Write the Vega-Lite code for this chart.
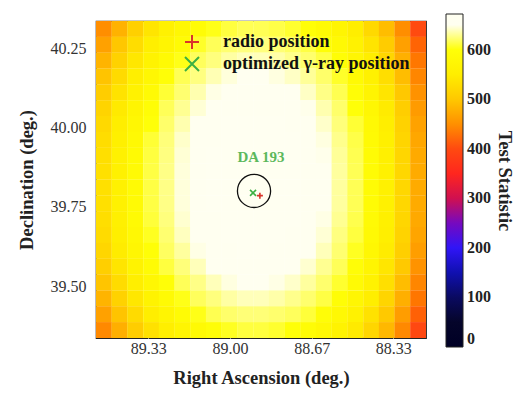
{
"$schema":"https://vega.github.io/schema/vega-lite/v6.json",
"width":330,"height":317,
"autosize":{"type":"none"},
"padding":{"left":96,"top":21,"right":94,"bottom":61},
"background":"white",
"config":{"view":{"stroke":"#222","strokeWidth":1.2},"font":"Liberation Serif"},
"datasets":{"tsmap":[
{"ra":89.515,"dec":40.311,"ts":448},{"ra":89.515,"dec":40.261,"ts":465},{"ra":89.515,"dec":40.211,"ts":482},{"ra":89.515,"dec":40.161,"ts":496},{"ra":89.515,"dec":40.111,"ts":506},{"ra":89.515,"dec":40.061,"ts":516},{"ra":89.515,"dec":40.011,"ts":523},{"ra":89.515,"dec":39.961,"ts":528},{"ra":89.515,"dec":39.911,"ts":531},{"ra":89.515,"dec":39.861,"ts":532},{"ra":89.515,"dec":39.811,"ts":532},{"ra":89.515,"dec":39.761,"ts":532},{"ra":89.515,"dec":39.711,"ts":529},{"ra":89.515,"dec":39.661,"ts":525},{"ra":89.515,"dec":39.611,"ts":519},{"ra":89.515,"dec":39.561,"ts":509},{"ra":89.515,"dec":39.511,"ts":497},{"ra":89.515,"dec":39.461,"ts":482},{"ra":89.515,"dec":39.411,"ts":465},{"ra":89.515,"dec":39.361,"ts":444},
{"ra":89.451,"dec":40.311,"ts":480},{"ra":89.451,"dec":40.261,"ts":499},{"ra":89.451,"dec":40.211,"ts":513},{"ra":89.451,"dec":40.161,"ts":525},{"ra":89.451,"dec":40.111,"ts":536},{"ra":89.451,"dec":40.061,"ts":545},{"ra":89.451,"dec":40.011,"ts":551},{"ra":89.451,"dec":39.961,"ts":556},{"ra":89.451,"dec":39.911,"ts":559},{"ra":89.451,"dec":39.861,"ts":560},{"ra":89.451,"dec":39.811,"ts":560},{"ra":89.451,"dec":39.761,"ts":560},{"ra":89.451,"dec":39.711,"ts":557},{"ra":89.451,"dec":39.661,"ts":554},{"ra":89.451,"dec":39.611,"ts":547},{"ra":89.451,"dec":39.561,"ts":538},{"ra":89.451,"dec":39.511,"ts":527},{"ra":89.451,"dec":39.461,"ts":513},{"ra":89.451,"dec":39.411,"ts":496},{"ra":89.451,"dec":39.361,"ts":477},
{"ra":89.387,"dec":40.311,"ts":511},{"ra":89.387,"dec":40.261,"ts":528},{"ra":89.387,"dec":40.211,"ts":541},{"ra":89.387,"dec":40.161,"ts":553},{"ra":89.387,"dec":40.111,"ts":563},{"ra":89.387,"dec":40.061,"ts":571},{"ra":89.387,"dec":40.011,"ts":578},{"ra":89.387,"dec":39.961,"ts":582},{"ra":89.387,"dec":39.911,"ts":585},{"ra":89.387,"dec":39.861,"ts":586},{"ra":89.387,"dec":39.811,"ts":586},{"ra":89.387,"dec":39.761,"ts":586},{"ra":89.387,"dec":39.711,"ts":584},{"ra":89.387,"dec":39.661,"ts":580},{"ra":89.387,"dec":39.611,"ts":574},{"ra":89.387,"dec":39.561,"ts":565},{"ra":89.387,"dec":39.511,"ts":554},{"ra":89.387,"dec":39.461,"ts":541},{"ra":89.387,"dec":39.411,"ts":525},{"ra":89.387,"dec":39.361,"ts":507},
{"ra":89.322,"dec":40.311,"ts":538},{"ra":89.322,"dec":40.261,"ts":552},{"ra":89.322,"dec":40.211,"ts":565},{"ra":89.322,"dec":40.161,"ts":577},{"ra":89.322,"dec":40.111,"ts":586},{"ra":89.322,"dec":40.061,"ts":594},{"ra":89.322,"dec":40.011,"ts":600},{"ra":89.322,"dec":39.961,"ts":605},{"ra":89.322,"dec":39.911,"ts":607},{"ra":89.322,"dec":39.861,"ts":608},{"ra":89.322,"dec":39.811,"ts":608},{"ra":89.322,"dec":39.761,"ts":608},{"ra":89.322,"dec":39.711,"ts":606},{"ra":89.322,"dec":39.661,"ts":602},{"ra":89.322,"dec":39.611,"ts":596},{"ra":89.322,"dec":39.561,"ts":588},{"ra":89.322,"dec":39.511,"ts":578},{"ra":89.322,"dec":39.461,"ts":565},{"ra":89.322,"dec":39.411,"ts":550},{"ra":89.322,"dec":39.361,"ts":533},
{"ra":89.258,"dec":40.311,"ts":559},{"ra":89.258,"dec":40.261,"ts":572},{"ra":89.258,"dec":40.211,"ts":585},{"ra":89.258,"dec":40.161,"ts":596},{"ra":89.258,"dec":40.111,"ts":605},{"ra":89.258,"dec":40.061,"ts":613},{"ra":89.258,"dec":40.011,"ts":618},{"ra":89.258,"dec":39.961,"ts":623},{"ra":89.258,"dec":39.911,"ts":625},{"ra":89.258,"dec":39.861,"ts":626},{"ra":89.258,"dec":39.811,"ts":626},{"ra":89.258,"dec":39.761,"ts":626},{"ra":89.258,"dec":39.711,"ts":624},{"ra":89.258,"dec":39.661,"ts":620},{"ra":89.258,"dec":39.611,"ts":615},{"ra":89.258,"dec":39.561,"ts":607},{"ra":89.258,"dec":39.511,"ts":597},{"ra":89.258,"dec":39.461,"ts":585},{"ra":89.258,"dec":39.411,"ts":570},{"ra":89.258,"dec":39.361,"ts":553},
{"ra":89.194,"dec":40.311,"ts":576},{"ra":89.194,"dec":40.261,"ts":589},{"ra":89.194,"dec":40.211,"ts":601},{"ra":89.194,"dec":40.161,"ts":612},{"ra":89.194,"dec":40.111,"ts":620},{"ra":89.194,"dec":40.061,"ts":628},{"ra":89.194,"dec":40.011,"ts":633},{"ra":89.194,"dec":39.961,"ts":638},{"ra":89.194,"dec":39.911,"ts":640},{"ra":89.194,"dec":39.861,"ts":641},{"ra":89.194,"dec":39.811,"ts":641},{"ra":89.194,"dec":39.761,"ts":641},{"ra":89.194,"dec":39.711,"ts":639},{"ra":89.194,"dec":39.661,"ts":636},{"ra":89.194,"dec":39.611,"ts":630},{"ra":89.194,"dec":39.561,"ts":623},{"ra":89.194,"dec":39.511,"ts":613},{"ra":89.194,"dec":39.461,"ts":601},{"ra":89.194,"dec":39.411,"ts":587},{"ra":89.194,"dec":39.361,"ts":571},
{"ra":89.130,"dec":40.311,"ts":590},{"ra":89.130,"dec":40.261,"ts":603},{"ra":89.130,"dec":40.211,"ts":614},{"ra":89.130,"dec":40.161,"ts":625},{"ra":89.130,"dec":40.111,"ts":633},{"ra":89.130,"dec":40.061,"ts":640},{"ra":89.130,"dec":40.011,"ts":646},{"ra":89.130,"dec":39.961,"ts":650},{"ra":89.130,"dec":39.911,"ts":652},{"ra":89.130,"dec":39.861,"ts":653},{"ra":89.130,"dec":39.811,"ts":653},{"ra":89.130,"dec":39.761,"ts":653},{"ra":89.130,"dec":39.711,"ts":651},{"ra":89.130,"dec":39.661,"ts":648},{"ra":89.130,"dec":39.611,"ts":643},{"ra":89.130,"dec":39.561,"ts":635},{"ra":89.130,"dec":39.511,"ts":626},{"ra":89.130,"dec":39.461,"ts":614},{"ra":89.130,"dec":39.411,"ts":601},{"ra":89.130,"dec":39.361,"ts":585},
{"ra":89.066,"dec":40.311,"ts":601},{"ra":89.066,"dec":40.261,"ts":613},{"ra":89.066,"dec":40.211,"ts":624},{"ra":89.066,"dec":40.161,"ts":634},{"ra":89.066,"dec":40.111,"ts":643},{"ra":89.066,"dec":40.061,"ts":650},{"ra":89.066,"dec":40.011,"ts":655},{"ra":89.066,"dec":39.961,"ts":659},{"ra":89.066,"dec":39.911,"ts":661},{"ra":89.066,"dec":39.861,"ts":662},{"ra":89.066,"dec":39.811,"ts":662},{"ra":89.066,"dec":39.761,"ts":662},{"ra":89.066,"dec":39.711,"ts":660},{"ra":89.066,"dec":39.661,"ts":657},{"ra":89.066,"dec":39.611,"ts":652},{"ra":89.066,"dec":39.561,"ts":645},{"ra":89.066,"dec":39.511,"ts":635},{"ra":89.066,"dec":39.461,"ts":624},{"ra":89.066,"dec":39.411,"ts":611},{"ra":89.066,"dec":39.361,"ts":595},
{"ra":89.002,"dec":40.311,"ts":607},{"ra":89.002,"dec":40.261,"ts":620},{"ra":89.002,"dec":40.211,"ts":631},{"ra":89.002,"dec":40.161,"ts":641},{"ra":89.002,"dec":40.111,"ts":649},{"ra":89.002,"dec":40.061,"ts":656},{"ra":89.002,"dec":40.011,"ts":661},{"ra":89.002,"dec":39.961,"ts":665},{"ra":89.002,"dec":39.911,"ts":667},{"ra":89.002,"dec":39.861,"ts":668},{"ra":89.002,"dec":39.811,"ts":668},{"ra":89.002,"dec":39.761,"ts":668},{"ra":89.002,"dec":39.711,"ts":666},{"ra":89.002,"dec":39.661,"ts":663},{"ra":89.002,"dec":39.611,"ts":658},{"ra":89.002,"dec":39.561,"ts":651},{"ra":89.002,"dec":39.511,"ts":642},{"ra":89.002,"dec":39.461,"ts":631},{"ra":89.002,"dec":39.411,"ts":618},{"ra":89.002,"dec":39.361,"ts":602},
{"ra":88.938,"dec":40.311,"ts":612},{"ra":88.938,"dec":40.261,"ts":624},{"ra":88.938,"dec":40.211,"ts":635},{"ra":88.938,"dec":40.161,"ts":645},{"ra":88.938,"dec":40.111,"ts":653},{"ra":88.938,"dec":40.061,"ts":660},{"ra":88.938,"dec":40.011,"ts":665},{"ra":88.938,"dec":39.961,"ts":669},{"ra":88.938,"dec":39.911,"ts":671},{"ra":88.938,"dec":39.861,"ts":672},{"ra":88.938,"dec":39.811,"ts":672},{"ra":88.938,"dec":39.761,"ts":672},{"ra":88.938,"dec":39.711,"ts":670},{"ra":88.938,"dec":39.661,"ts":667},{"ra":88.938,"dec":39.611,"ts":662},{"ra":88.938,"dec":39.561,"ts":655},{"ra":88.938,"dec":39.511,"ts":646},{"ra":88.938,"dec":39.461,"ts":635},{"ra":88.938,"dec":39.411,"ts":622},{"ra":88.938,"dec":39.361,"ts":607},
{"ra":88.873,"dec":40.311,"ts":612},{"ra":88.873,"dec":40.261,"ts":624},{"ra":88.873,"dec":40.211,"ts":635},{"ra":88.873,"dec":40.161,"ts":645},{"ra":88.873,"dec":40.111,"ts":653},{"ra":88.873,"dec":40.061,"ts":660},{"ra":88.873,"dec":40.011,"ts":665},{"ra":88.873,"dec":39.961,"ts":669},{"ra":88.873,"dec":39.911,"ts":671},{"ra":88.873,"dec":39.861,"ts":672},{"ra":88.873,"dec":39.811,"ts":672},{"ra":88.873,"dec":39.761,"ts":672},{"ra":88.873,"dec":39.711,"ts":670},{"ra":88.873,"dec":39.661,"ts":667},{"ra":88.873,"dec":39.611,"ts":662},{"ra":88.873,"dec":39.561,"ts":655},{"ra":88.873,"dec":39.511,"ts":646},{"ra":88.873,"dec":39.461,"ts":635},{"ra":88.873,"dec":39.411,"ts":622},{"ra":88.873,"dec":39.361,"ts":607},
{"ra":88.809,"dec":40.311,"ts":609},{"ra":88.809,"dec":40.261,"ts":621},{"ra":88.809,"dec":40.211,"ts":632},{"ra":88.809,"dec":40.161,"ts":642},{"ra":88.809,"dec":40.111,"ts":650},{"ra":88.809,"dec":40.061,"ts":657},{"ra":88.809,"dec":40.011,"ts":662},{"ra":88.809,"dec":39.961,"ts":666},{"ra":88.809,"dec":39.911,"ts":668},{"ra":88.809,"dec":39.861,"ts":669},{"ra":88.809,"dec":39.811,"ts":669},{"ra":88.809,"dec":39.761,"ts":669},{"ra":88.809,"dec":39.711,"ts":667},{"ra":88.809,"dec":39.661,"ts":664},{"ra":88.809,"dec":39.611,"ts":659},{"ra":88.809,"dec":39.561,"ts":652},{"ra":88.809,"dec":39.511,"ts":643},{"ra":88.809,"dec":39.461,"ts":632},{"ra":88.809,"dec":39.411,"ts":619},{"ra":88.809,"dec":39.361,"ts":604},
{"ra":88.745,"dec":40.311,"ts":604},{"ra":88.745,"dec":40.261,"ts":616},{"ra":88.745,"dec":40.211,"ts":627},{"ra":88.745,"dec":40.161,"ts":637},{"ra":88.745,"dec":40.111,"ts":645},{"ra":88.745,"dec":40.061,"ts":652},{"ra":88.745,"dec":40.011,"ts":657},{"ra":88.745,"dec":39.961,"ts":661},{"ra":88.745,"dec":39.911,"ts":663},{"ra":88.745,"dec":39.861,"ts":664},{"ra":88.745,"dec":39.811,"ts":664},{"ra":88.745,"dec":39.761,"ts":664},{"ra":88.745,"dec":39.711,"ts":662},{"ra":88.745,"dec":39.661,"ts":659},{"ra":88.745,"dec":39.611,"ts":654},{"ra":88.745,"dec":39.561,"ts":647},{"ra":88.745,"dec":39.511,"ts":638},{"ra":88.745,"dec":39.461,"ts":627},{"ra":88.745,"dec":39.411,"ts":614},{"ra":88.745,"dec":39.361,"ts":599},
{"ra":88.681,"dec":40.311,"ts":596},{"ra":88.681,"dec":40.261,"ts":608},{"ra":88.681,"dec":40.211,"ts":619},{"ra":88.681,"dec":40.161,"ts":629},{"ra":88.681,"dec":40.111,"ts":637},{"ra":88.681,"dec":40.061,"ts":644},{"ra":88.681,"dec":40.011,"ts":649},{"ra":88.681,"dec":39.961,"ts":653},{"ra":88.681,"dec":39.911,"ts":655},{"ra":88.681,"dec":39.861,"ts":656},{"ra":88.681,"dec":39.811,"ts":656},{"ra":88.681,"dec":39.761,"ts":656},{"ra":88.681,"dec":39.711,"ts":654},{"ra":88.681,"dec":39.661,"ts":651},{"ra":88.681,"dec":39.611,"ts":646},{"ra":88.681,"dec":39.561,"ts":639},{"ra":88.681,"dec":39.511,"ts":630},{"ra":88.681,"dec":39.461,"ts":619},{"ra":88.681,"dec":39.411,"ts":606},{"ra":88.681,"dec":39.361,"ts":591},
{"ra":88.617,"dec":40.311,"ts":585},{"ra":88.617,"dec":40.261,"ts":597},{"ra":88.617,"dec":40.211,"ts":608},{"ra":88.617,"dec":40.161,"ts":618},{"ra":88.617,"dec":40.111,"ts":626},{"ra":88.617,"dec":40.061,"ts":633},{"ra":88.617,"dec":40.011,"ts":638},{"ra":88.617,"dec":39.961,"ts":642},{"ra":88.617,"dec":39.911,"ts":644},{"ra":88.617,"dec":39.861,"ts":645},{"ra":88.617,"dec":39.811,"ts":645},{"ra":88.617,"dec":39.761,"ts":645},{"ra":88.617,"dec":39.711,"ts":643},{"ra":88.617,"dec":39.661,"ts":640},{"ra":88.617,"dec":39.611,"ts":635},{"ra":88.617,"dec":39.561,"ts":628},{"ra":88.617,"dec":39.511,"ts":619},{"ra":88.617,"dec":39.461,"ts":608},{"ra":88.617,"dec":39.411,"ts":595},{"ra":88.617,"dec":39.361,"ts":580},
{"ra":88.553,"dec":40.311,"ts":570},{"ra":88.553,"dec":40.261,"ts":582},{"ra":88.553,"dec":40.211,"ts":593},{"ra":88.553,"dec":40.161,"ts":603},{"ra":88.553,"dec":40.111,"ts":611},{"ra":88.553,"dec":40.061,"ts":618},{"ra":88.553,"dec":40.011,"ts":623},{"ra":88.553,"dec":39.961,"ts":627},{"ra":88.553,"dec":39.911,"ts":629},{"ra":88.553,"dec":39.861,"ts":630},{"ra":88.553,"dec":39.811,"ts":630},{"ra":88.553,"dec":39.761,"ts":630},{"ra":88.553,"dec":39.711,"ts":628},{"ra":88.553,"dec":39.661,"ts":625},{"ra":88.553,"dec":39.611,"ts":620},{"ra":88.553,"dec":39.561,"ts":613},{"ra":88.553,"dec":39.511,"ts":604},{"ra":88.553,"dec":39.461,"ts":593},{"ra":88.553,"dec":39.411,"ts":580},{"ra":88.553,"dec":39.361,"ts":565},
{"ra":88.489,"dec":40.311,"ts":550},{"ra":88.489,"dec":40.261,"ts":563},{"ra":88.489,"dec":40.211,"ts":575},{"ra":88.489,"dec":40.161,"ts":585},{"ra":88.489,"dec":40.111,"ts":593},{"ra":88.489,"dec":40.061,"ts":600},{"ra":88.489,"dec":40.011,"ts":605},{"ra":88.489,"dec":39.961,"ts":609},{"ra":88.489,"dec":39.911,"ts":611},{"ra":88.489,"dec":39.861,"ts":612},{"ra":88.489,"dec":39.811,"ts":612},{"ra":88.489,"dec":39.761,"ts":612},{"ra":88.489,"dec":39.711,"ts":610},{"ra":88.489,"dec":39.661,"ts":607},{"ra":88.489,"dec":39.611,"ts":602},{"ra":88.489,"dec":39.561,"ts":595},{"ra":88.489,"dec":39.511,"ts":586},{"ra":88.489,"dec":39.461,"ts":575},{"ra":88.489,"dec":39.411,"ts":562},{"ra":88.489,"dec":39.361,"ts":545},
{"ra":88.424,"dec":40.311,"ts":522},{"ra":88.424,"dec":40.261,"ts":537},{"ra":88.424,"dec":40.211,"ts":550},{"ra":88.424,"dec":40.161,"ts":560},{"ra":88.424,"dec":40.111,"ts":569},{"ra":88.424,"dec":40.061,"ts":576},{"ra":88.424,"dec":40.011,"ts":581},{"ra":88.424,"dec":39.961,"ts":585},{"ra":88.424,"dec":39.911,"ts":587},{"ra":88.424,"dec":39.861,"ts":588},{"ra":88.424,"dec":39.811,"ts":588},{"ra":88.424,"dec":39.761,"ts":588},{"ra":88.424,"dec":39.711,"ts":586},{"ra":88.424,"dec":39.661,"ts":583},{"ra":88.424,"dec":39.611,"ts":578},{"ra":88.424,"dec":39.561,"ts":571},{"ra":88.424,"dec":39.511,"ts":562},{"ra":88.424,"dec":39.461,"ts":550},{"ra":88.424,"dec":39.411,"ts":535},{"ra":88.424,"dec":39.361,"ts":518},
{"ra":88.360,"dec":40.311,"ts":490},{"ra":88.360,"dec":40.261,"ts":505},{"ra":88.360,"dec":40.211,"ts":518},{"ra":88.360,"dec":40.161,"ts":529},{"ra":88.360,"dec":40.111,"ts":538},{"ra":88.360,"dec":40.061,"ts":546},{"ra":88.360,"dec":40.011,"ts":551},{"ra":88.360,"dec":39.961,"ts":555},{"ra":88.360,"dec":39.911,"ts":557},{"ra":88.360,"dec":39.861,"ts":558},{"ra":88.360,"dec":39.811,"ts":558},{"ra":88.360,"dec":39.761,"ts":558},{"ra":88.360,"dec":39.711,"ts":556},{"ra":88.360,"dec":39.661,"ts":553},{"ra":88.360,"dec":39.611,"ts":548},{"ra":88.360,"dec":39.561,"ts":540},{"ra":88.360,"dec":39.511,"ts":530},{"ra":88.360,"dec":39.461,"ts":517},{"ra":88.360,"dec":39.411,"ts":502},{"ra":88.360,"dec":39.361,"ts":485},
{"ra":88.296,"dec":40.311,"ts":448},{"ra":88.296,"dec":40.261,"ts":464},{"ra":88.296,"dec":40.211,"ts":478},{"ra":88.296,"dec":40.161,"ts":490},{"ra":88.296,"dec":40.111,"ts":500},{"ra":88.296,"dec":40.061,"ts":508},{"ra":88.296,"dec":40.011,"ts":513},{"ra":88.296,"dec":39.961,"ts":517},{"ra":88.296,"dec":39.911,"ts":519},{"ra":88.296,"dec":39.861,"ts":520},{"ra":88.296,"dec":39.811,"ts":520},{"ra":88.296,"dec":39.761,"ts":520},{"ra":88.296,"dec":39.711,"ts":518},{"ra":88.296,"dec":39.661,"ts":515},{"ra":88.296,"dec":39.611,"ts":509},{"ra":88.296,"dec":39.561,"ts":501},{"ra":88.296,"dec":39.511,"ts":490},{"ra":88.296,"dec":39.461,"ts":477},{"ra":88.296,"dec":39.411,"ts":461},{"ra":88.296,"dec":39.361,"ts":444},
{"ra":88.232,"dec":40.311,"ts":400},{"ra":88.232,"dec":40.261,"ts":416},{"ra":88.232,"dec":40.211,"ts":430},{"ra":88.232,"dec":40.161,"ts":442},{"ra":88.232,"dec":40.111,"ts":452},{"ra":88.232,"dec":40.061,"ts":460},{"ra":88.232,"dec":40.011,"ts":466},{"ra":88.232,"dec":39.961,"ts":470},{"ra":88.232,"dec":39.911,"ts":473},{"ra":88.232,"dec":39.861,"ts":474},{"ra":88.232,"dec":39.811,"ts":474},{"ra":88.232,"dec":39.761,"ts":474},{"ra":88.232,"dec":39.711,"ts":472},{"ra":88.232,"dec":39.661,"ts":468},{"ra":88.232,"dec":39.611,"ts":462},{"ra":88.232,"dec":39.561,"ts":453},{"ra":88.232,"dec":39.511,"ts":442},{"ra":88.232,"dec":39.461,"ts":429},{"ra":88.232,"dec":39.411,"ts":414},{"ra":88.232,"dec":39.361,"ts":396}
],
"sources":[{"ra":88.878,"dec":39.785,"label":"radio position"},{"ra":88.906,"dec":39.794,"label":"optimized γ-ray position"}],
"target":[{"ra":88.902,"dec":39.800,"name":"DA 193"}]
},
"layer":[
{"data":{"name":"tsmap"},
 "mark":{"type":"rect","width":15.9,"height":16,"clip":true},
 "encoding":{
  "x":{"field":"ra","type":"quantitative","scale":{"domain":[88.2,89.547],"reverse":true,"nice":false,"zero":false},
   "axis":{"values":[89.3333,89.0,88.6667,88.3333],"format":".2f","title":"Right Ascension (deg.)","grid":false,"domain":false,"ticks":true,"tickColor":"white","tickSize":-6,"tickWidth":1,"labelPadding":8,"labelFont":"Liberation Serif","labelFontSize":16,"labelColor":"#333","titleFont":"Liberation Serif","titleFontSize":18.5,"titleFontWeight":"bold","titleColor":"#222","titlePadding":12}},
  "y":{"field":"dec","type":"quantitative","scale":{"domain":[39.336,40.336],"nice":false,"zero":false},
   "axis":{"values":[39.5,39.75,40.0,40.25],"format":".2f","title":"Declination (deg.)","grid":false,"domain":false,"ticks":true,"tickColor":"white","tickSize":-6,"tickWidth":1,"labelPadding":16,"labelFont":"Liberation Serif","labelFontSize":16,"labelColor":"#333","titleFont":"Liberation Serif","titleFontSize":18.5,"titleFontWeight":"bold","titleColor":"#222","titlePadding":14}},
  "color":{"field":"ts","type":"quantitative",
   "scale":{"domain":[0,50,100,150,190,230,260,300,340,400,450,500,550,600,625,645,672],
            "range":["#000000","#05052a","#0a0a60","#1010b0","#1818ff","#5010e0","#8010b0","#d01050","#ff1a20","#ff4a10","#ff9000","#ffc800","#ffee00","#ffff08","#ffff80","#fffff0","#ffffff"],"clamp":true},
   "legend":{"orient":"none","legendX":350,"legendY":-7,"direction":"vertical","gradientLength":333,"gradientThickness":17,"gradientStrokeColor":"#222","gradientStrokeWidth":1,"values":[0,100,200,300,400,500,600],"labelFont":"Liberation Serif","labelFontSize":16,"labelFontWeight":"bold","labelColor":"#222","labelOffset":4,"title":"Test Statistic","titleOrient":"right","titleAngle":270,"titleAnchor":"middle","titleBaseline":"bottom","titleFont":"Liberation Serif","titleFontSize":18.5,"titleFontWeight":"bold","titleColor":"#222","titlePadding":4,"padding":0}}
 }},
{"data":{"name":"target"},
 "mark":{"type":"point","shape":"circle","size":1100,"filled":false,"stroke":"#111","strokeWidth":1.3,"opacity":1},
 "encoding":{"x":{"field":"ra","type":"quantitative"},"y":{"field":"dec","type":"quantitative"}}},
{"data":{"name":"target"},
 "mark":{"type":"text","dx":7,"dy":-34,"font":"Liberation Serif","fontSize":15,"fontWeight":"bold","color":"#5cb85c"},
 "encoding":{"x":{"field":"ra","type":"quantitative"},"y":{"field":"dec","type":"quantitative"},"text":{"field":"name"}}},
{"data":{"name":"sources"},
 "mark":{"type":"point","size":36,"strokeWidth":1.6,"filled":false,"opacity":1},
 "encoding":{"x":{"field":"ra","type":"quantitative"},"y":{"field":"dec","type":"quantitative"},
  "shape":{"field":"label","type":"nominal","scale":{"domain":["radio position","optimized γ-ray position"],"range":["M-1,0L1,0M0,-1L0,1","M-1,-1L1,1M-1,1L1,-1"]},
   "legend":{"orient":"none","legendX":87,"legendY":12,"title":null,"symbolSize":196,"symbolStrokeWidth":2,"symbolFillColor":"transparent","labelFont":"Liberation Serif","labelFontSize":18,"labelFontWeight":"bold","labelColor":"#111","labelOffset":22,"labelLimit":400,"rowPadding":0,"padding":0}},
  "stroke":{"field":"label","type":"nominal","scale":{"domain":["radio position","optimized γ-ray position"],"range":["#d9342b","#3cb043"]},
   "legend":{"orient":"none","legendX":87,"legendY":12,"title":null,"symbolSize":196,"symbolStrokeWidth":2,"symbolFillColor":"transparent","labelFont":"Liberation Serif","labelFontSize":18,"labelFontWeight":"bold","labelColor":"#111","labelOffset":22,"labelLimit":400,"rowPadding":0,"padding":0}}
 }}
]
}
